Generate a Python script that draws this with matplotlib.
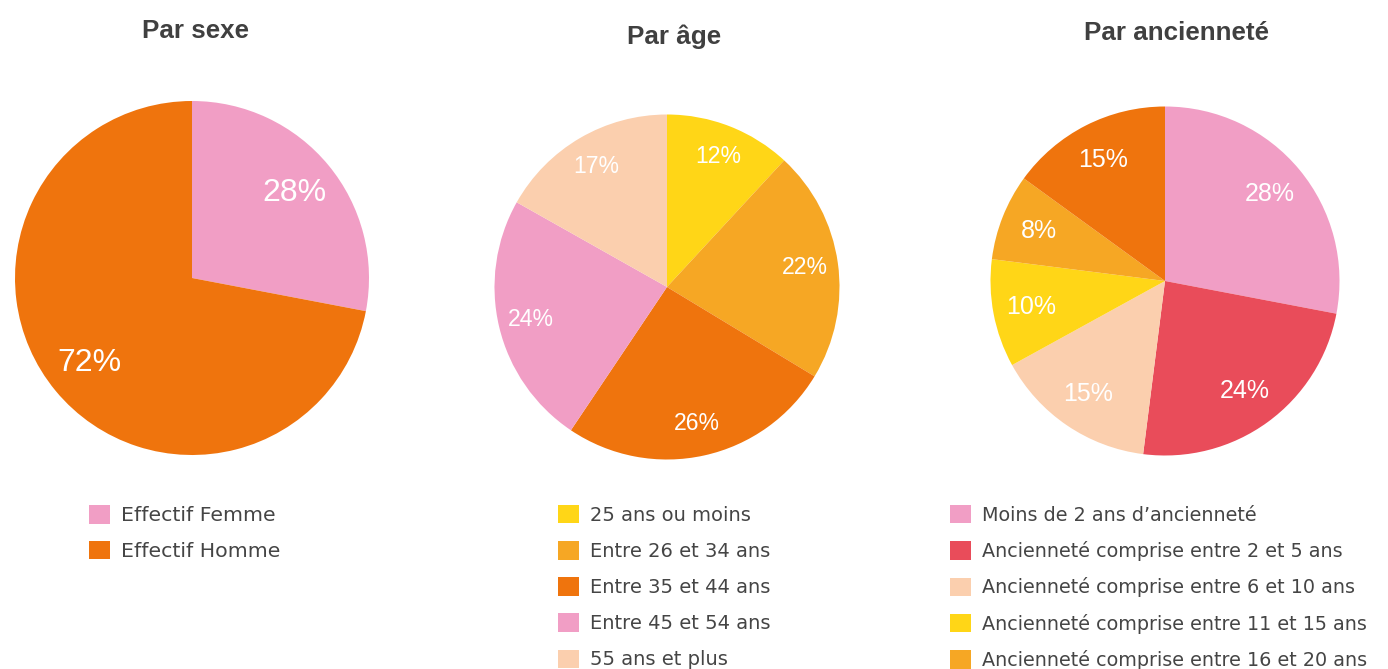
import matplotlib
matplotlib.use("Agg")
import matplotlib.pyplot as plt
import numpy as np

W, H = 1388, 669
DPI = 100

# ---- data ----
sexe_labels = ["Effectif Femme", "Effectif Homme"]
sexe_values = [28, 72]

age_labels = ["25 ans ou moins", "Entre 26 et 34 ans", "Entre 35 et 44 ans",
              "Entre 45 et 54 ans", "55 ans et plus"]
age_values = [12, 22, 26, 24, 17]

anc_labels = ["Moins de 2 ans d\u2019ancienneté",
              "Ancienneté comprise entre 2 et 5 ans",
              "Ancienneté comprise entre 6 et 10 ans",
              "Ancienneté comprise entre 11 et 15 ans",
              "Ancienneté comprise entre 16 et 20 ans",
              "Ancienneté supérieure à 20 ans"]
anc_values = [28, 24, 15, 10, 8, 15]

titles = ["Par sexe", "Par âge", "Par ancienneté"]

# ---- styles ----
PINK = "#F19EC5"
ORANGE = "#EF740D"
YELLOW = "#FFD617"
LORANGE = "#F6A724"
PEACH = "#FBCFAE"
RED = "#E94C5A"

sexe_colors = [PINK, ORANGE]
age_colors = [YELLOW, LORANGE, ORANGE, PINK, PEACH]
anc_colors = [PINK, RED, PEACH, YELLOW, LORANGE, ORANGE]

fig = plt.figure(figsize=(W / DPI, H / DPI), dpi=DPI)
fig.patch.set_facecolor("white")

def px2pt(px):
    return px * 72 / DPI

specs = [
    # cx, cy, r, values, colors, labels, label font px, labeldist, title (x, y),
    # legend (x, ytop), legend font px, legend spacing px
    (192, 278, 177, sexe_values, sexe_colors, sexe_labels, 32, 0.75, (196, 31), (89, 505), 20.5, 15.4),
    (667, 287, 172.5, age_values, age_colors, age_labels, 23, 0.81, (674, 37), (558, 505), 19.5, 16.3),
    (1165, 281, 174.5, anc_values, anc_colors, anc_labels, 25, 0.78, (1176, 33), (950, 505), 19.2, 16.3),
]

for i, (cx, cy, r, vals, cols, labs, lfs, ld, tpos, lpos, fs_px, sp_px) in enumerate(specs):
    ax = fig.add_axes([(cx - r) / W, (H - cy - r) / H, 2 * r / W, 2 * r / H])
    wedges, _ = ax.pie(vals, colors=cols, startangle=90, counterclock=False,
                       radius=1, wedgeprops=dict(linewidth=0))
    total = float(sum(vals))
    ang = 90.0
    for v in vals:
        mid = ang - 360.0 * v / total / 2
        ang -= 360.0 * v / total
        ax.text(ld * np.cos(np.radians(mid)), ld * np.sin(np.radians(mid)), f"{v}%",
                ha="center", va="center", color="white",
                fontsize=px2pt(lfs), family="Liberation Sans")
    ax.set_xlim(-1, 1)
    ax.set_ylim(-1, 1)
    ax.set_aspect("equal")
    ax.axis("off")

    fig.text(tpos[0] / W, 1 - tpos[1] / H, titles[i], ha="center", va="center",
             fontsize=px2pt(26), fontweight="bold", color="#404040",
             family="Liberation Sans")

    fs = px2pt(fs_px)
    leg = fig.legend(wedges, labs, loc="upper left",
                     bbox_to_anchor=(lpos[0] / W, 1 - lpos[1] / H),
                     bbox_transform=fig.transFigure,
                     frameon=False, borderpad=0, borderaxespad=0,
                     handlelength=21 / fs_px, handleheight=21 / fs_px,
                     handletextpad=11 / fs_px,
                     labelspacing=sp_px / fs_px,
                     prop=dict(family="DejaVu Sans", size=fs))
    for t in leg.get_texts():
        t.set_color("#454545")

fig.savefig("out.png", dpi=DPI)
